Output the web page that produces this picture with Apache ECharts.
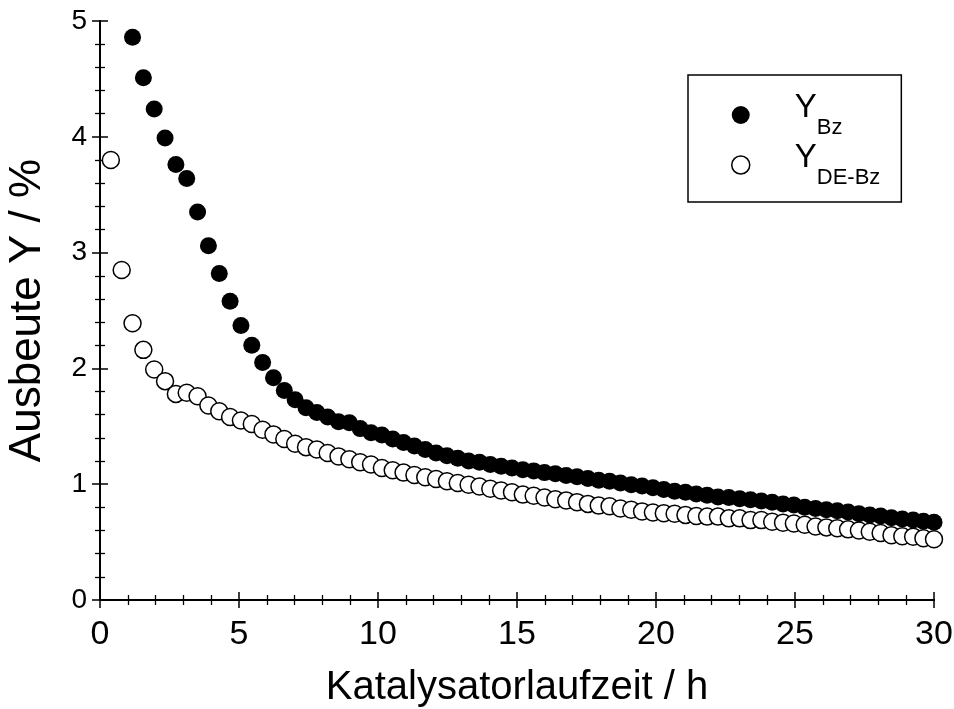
<!DOCTYPE html>
<html>
<head>
<meta charset="utf-8">
<title>Ausbeute über Katalysatorlaufzeit</title>
<script src="https://cdn.jsdelivr.net/npm/echarts@6/dist/echarts.min.js"></script>
<style>
  html, body { margin: 0; padding: 0; background: #fff; }
  #chart { width: 954px; height: 709px; }
</style>
</head>
<body>
<div id="chart"></div>
<script>
// Sampling times of the run (h)
const times = [
  0.39, 0.78, 1.17, 1.56, 1.95, 2.34, 2.73, 3.12, 3.51, 3.90,
  4.29, 4.68, 5.07, 5.46, 5.85, 6.24, 6.63, 7.02, 7.41, 7.80,
  8.19, 8.58, 8.97, 9.36, 9.75, 10.14, 10.53, 10.92, 11.31, 11.70,
  12.09, 12.48, 12.87, 13.26, 13.65, 14.04, 14.43, 14.82, 15.21, 15.60,
  15.99, 16.38, 16.77, 17.16, 17.55, 17.94, 18.33, 18.72, 19.11, 19.50,
  19.89, 20.28, 20.67, 21.06, 21.45, 21.84, 22.23, 22.62, 23.01, 23.40,
  23.79, 24.18, 24.57, 24.96, 25.35, 25.74, 26.13, 26.52, 26.91, 27.30,
  27.69, 28.08, 28.47, 28.86, 29.25, 29.62, 30.00
];

// Benzene yield Y_Bz (%); the first two samples lie above the plotted range
const yieldBz = [
  null, null, 4.86, 4.51, 4.24, 3.99, 3.76, 3.64, 3.35, 3.06,
  2.82, 2.58, 2.37, 2.20, 2.05, 1.92, 1.81, 1.73, 1.66, 1.62,
  1.58, 1.54, 1.53, 1.48, 1.445, 1.425, 1.39, 1.36, 1.33, 1.30,
  1.27, 1.245, 1.225, 1.20, 1.19, 1.17, 1.155, 1.14, 1.125, 1.115,
  1.10, 1.09, 1.075, 1.065, 1.05, 1.035, 1.025, 1.01, 0.995, 0.985,
  0.97, 0.955, 0.94, 0.93, 0.915, 0.905, 0.89, 0.885, 0.875, 0.865,
  0.855, 0.845, 0.83, 0.82, 0.80, 0.79, 0.78, 0.77, 0.76, 0.745,
  0.735, 0.725, 0.71, 0.70, 0.69, 0.68, 0.672
];

// Diethylbenzene-derived benzene yield Y_DE-Bz (%)
const yieldDeBz = [
  3.80, 2.85, 2.39, 2.16, 1.99, 1.89, 1.78, 1.79, 1.76, 1.68,
  1.63, 1.58, 1.55, 1.52, 1.47, 1.43, 1.39, 1.35, 1.32, 1.30,
  1.27, 1.24, 1.215, 1.19, 1.17, 1.14, 1.12, 1.10, 1.08, 1.06,
  1.045, 1.025, 1.01, 0.995, 0.98, 0.96, 0.945, 0.93, 0.91, 0.90,
  0.885, 0.87, 0.86, 0.845, 0.83, 0.815, 0.81, 0.79, 0.78, 0.765,
  0.755, 0.75, 0.745, 0.735, 0.725, 0.72, 0.72, 0.705, 0.705, 0.69,
  0.69, 0.676, 0.668, 0.66, 0.65, 0.635, 0.627, 0.62, 0.61, 0.60,
  0.59, 0.578, 0.56, 0.55, 0.547, 0.533, 0.525
];

const xTicks = { min: 0, max: 30, interval: 5 };
const yTicks = { min: 0, max: 5, interval: 1 };

const FONT = '"Liberation Sans", Arial, Helvetica, sans-serif';

function pairs(xs, ys) {
  return xs.map((x, i) => [x, ys[i]]);
}

// Fresh style objects for every axis so that none are shared between components
function axisLine() { return { show: true, lineStyle: { color: '#000', width: 2 } }; }
function axisTick() { return { show: true, inside: true, length: 8, lineStyle: { color: '#000', width: 1.5 } }; }
function minorTick() { return { show: true, splitNumber: 5, length: 5, lineStyle: { color: '#000', width: 1.3 } }; }

const legendRich = {
  pre: { width: 40, fontSize: 1, lineHeight: 48 },
  a: { fontSize: 33, lineHeight: 32, verticalAlign: 'top', fontFamily: FONT, color: '#000' },
  b: { fontSize: 22, lineHeight: 44, verticalAlign: 'bottom', fontFamily: FONT, color: '#000' }
};

const chart = echarts.init(document.getElementById('chart'), null, { renderer: 'canvas' });

chart.setOption({
  backgroundColor: '#fff',
  animation: false,
  textStyle: { fontFamily: FONT, color: '#000' },
  grid: { left: 100, right: 20, top: 21, bottom: 109, containLabel: false, outerBoundsMode: 'none' },
  legend: {
    orient: 'vertical',
    left: 688,
    top: 75,
    padding: [16, 21, 13, 43],
    itemGap: 2,
    itemWidth: 18,
    itemHeight: 18,
    borderColor: '#000',
    borderWidth: 1.5,
    data: [
      { name: 'Y_Bz', icon: 'circle', itemStyle: { color: '#000', borderColor: '#000', borderWidth: 0 } },
      { name: 'Y_DE-Bz', icon: 'circle', itemStyle: { color: '#fff', borderColor: '#000', borderWidth: 1.5 } }
    ],
    formatter: function (name) {
      const sub = name.split('_')[1];
      return '{pre|\u200b}{a|Y}{b|' + sub + '}';
    },
    textStyle: { rich: legendRich }
  },
  xAxis: [
    {
      type: 'value',
      position: 'bottom',
      min: xTicks.min, max: xTicks.max, interval: xTicks.interval,
      axisLine: axisLine(), axisTick: axisTick(), minorTick: minorTick(),
      splitLine: { show: false },
      axisLabel: { fontSize: 34, color: '#000', margin: 18, fontFamily: FONT },
      name: 'Katalysatorlaufzeit / h',
      nameLocation: 'middle',
      nameGap: 68,
      nameTextStyle: { fontSize: 40, color: '#000', fontFamily: FONT }
    },
    {
      type: 'value',
      position: 'top',
      min: xTicks.min, max: xTicks.max, interval: xTicks.interval,
      axisLine: axisLine(), axisTick: axisTick(), minorTick: minorTick(),
      splitLine: { show: false },
      axisLabel: { show: false }
    }
  ],
  yAxis: [
    {
      type: 'value',
      position: 'left',
      min: yTicks.min, max: yTicks.max, interval: yTicks.interval,
      axisLine: axisLine(), axisTick: axisTick(), minorTick: minorTick(),
      splitLine: { show: false },
      axisLabel: { fontSize: 28, color: '#000', margin: 13, fontFamily: FONT },
      name: 'Ausbeute Y / %',
      nameLocation: 'middle',
      nameRotate: 90,
      nameGap: 50,
      nameTextStyle: { fontSize: 44, color: '#000', fontFamily: FONT }
    },
    {
      type: 'value',
      position: 'right',
      min: yTicks.min, max: yTicks.max, interval: yTicks.interval,
      axisLine: axisLine(), axisTick: axisTick(), minorTick: minorTick(),
      splitLine: { show: false },
      axisLabel: { show: false }
    }
  ],
  series: [
    {
      name: 'Y_Bz',
      type: 'scatter',
      xAxisIndex: 0, yAxisIndex: 0,
      symbol: 'circle',
      symbolSize: 17,
      itemStyle: { color: '#000', opacity: 1 },
      data: pairs(times, yieldBz).filter(p => p[1] !== null),
      z: 2
    },
    {
      name: 'Y_DE-Bz',
      type: 'scatter',
      xAxisIndex: 0, yAxisIndex: 0,
      symbol: 'circle',
      symbolSize: 17,
      itemStyle: { color: '#fff', borderColor: '#000', borderWidth: 1.5, opacity: 1 },
      data: pairs(times, yieldDeBz),
      z: 3
    }
  ]
});
</script>
</body>
</html>
